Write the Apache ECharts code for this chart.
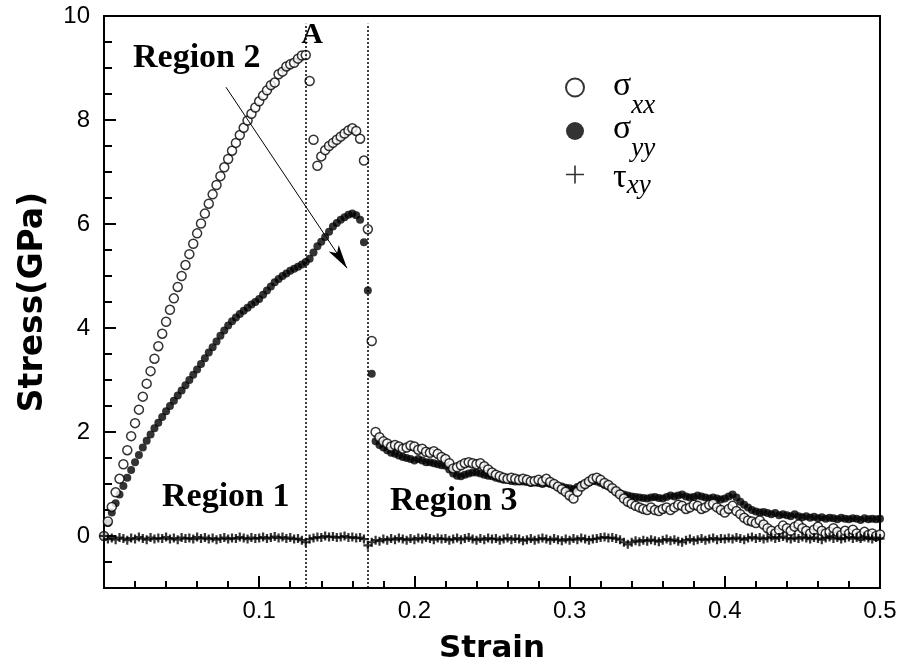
<!DOCTYPE html>
<html><head><meta charset="utf-8">
<script src="https://cdn.jsdelivr.net/npm/echarts@6/dist/echarts.min.js"></script>
<style>html,body{margin:0;padding:0;background:#fff}#c{width:899px;height:664px}</style>
</head><body><div id="c"></div>
<script>
// ---- data ----
const strain = [
0,0.0025,0.005,0.0075,0.01,0.0125,0.015,0.0175,0.02,0.0225,
0.025,0.0275,0.03,0.0325,0.035,0.0375,0.04,0.0425,0.045,0.0475,
0.05,0.0525,0.055,0.0575,0.06,0.0625,0.065,0.0675,0.07,0.0725,
0.075,0.0775,0.08,0.0825,0.085,0.0875,0.09,0.0925,0.095,0.0975,
0.1,0.1025,0.105,0.1075,0.11,0.1125,0.115,0.1175,0.12,0.1225,
0.125,0.1275,0.13,0.1325,0.135,0.1375,0.14,0.1425,0.145,0.1475,
0.15,0.1525,0.155,0.1575,0.16,0.1625,0.165,0.1675,0.17,0.1725,
0.175,0.1775,0.18,0.1825,0.185,0.1875,0.19,0.1925,0.195,0.1975,
0.2,0.2025,0.205,0.2075,0.21,0.2125,0.215,0.2175,0.22,0.2225,
0.225,0.2275,0.23,0.2325,0.235,0.2375,0.24,0.2425,0.245,0.2475,
0.25,0.2525,0.255,0.2575,0.26,0.2625,0.265,0.2675,0.27,0.2725,
0.275,0.2775,0.28,0.2825,0.285,0.2875,0.29,0.2925,0.295,0.2975,
0.3,0.3025,0.305,0.3075,0.31,0.3125,0.315,0.3175,0.32,0.3225,
0.325,0.3275,0.33,0.3325,0.335,0.3375,0.34,0.3425,0.345,0.3475,
0.35,0.3525,0.355,0.3575,0.36,0.3625,0.365,0.3675,0.37,0.3725,
0.375,0.3775,0.38,0.3825,0.385,0.3875,0.39,0.3925,0.395,0.3975,
0.4,0.4025,0.405,0.4075,0.41,0.4125,0.415,0.4175,0.42,0.4225,
0.425,0.4275,0.43,0.4325,0.435,0.4375,0.44,0.4425,0.445,0.4475,
0.45,0.4525,0.455,0.4575,0.46,0.4625,0.465,0.4675,0.47,0.4725,
0.475,0.4775,0.48,0.4825,0.485,0.4875,0.49,0.4925,0.495,0.4975,
0.5];

const sigmaXX = [
0,0.28,0.56,0.84,1.1,1.38,1.65,1.92,2.17,2.43,
2.68,2.93,3.17,3.41,3.65,3.89,4.12,4.35,4.57,4.79,
5.0,5.21,5.42,5.62,5.82,6.01,6.2,6.39,6.57,6.75,
6.92,7.09,7.25,7.41,7.56,7.71,7.85,7.99,8.12,8.24,
8.36,8.47,8.57,8.67,8.72,8.88,8.93,9.03,9.07,9.1,
9.18,9.24,9.25,8.75,7.62,7.12,7.3,7.42,7.5,7.56,
7.62,7.68,7.74,7.8,7.84,7.79,7.64,7.22,5.9,3.75,
2.0,1.9,1.82,1.78,1.72,1.75,1.72,1.68,1.7,1.74,
1.72,1.66,1.68,1.62,1.6,1.63,1.58,1.52,1.48,1.4,
1.3,1.32,1.36,1.4,1.42,1.4,1.38,1.4,1.34,1.28,
1.22,1.18,1.15,1.12,1.1,1.12,1.1,1.08,1.1,1.08,
1.05,1.06,1.08,1.05,1.1,1.04,1.0,0.95,0.9,0.85,
0.78,0.72,0.85,0.95,1.0,1.05,1.1,1.12,1.08,1.02,
0.98,0.92,0.86,0.8,0.72,0.66,0.62,0.58,0.55,0.52,
0.5,0.55,0.5,0.48,0.52,0.55,0.5,0.55,0.6,0.58,
0.52,0.55,0.6,0.58,0.52,0.55,0.6,0.62,0.55,0.5,
0.45,0.52,0.58,0.48,0.42,0.35,0.3,0.28,0.25,0.3,
0.22,0.15,0.1,0.05,0.12,0.2,0.15,0.1,0.18,0.22,
0.15,0.1,0.05,0.12,0.18,0.1,0.05,0.08,0.15,0.08,
0.02,0.1,0.05,0.12,0.05,0.0,0.08,0.02,0.05,0.0,
0.03];

const sigmaYY = [
0,0.25,0.45,0.63,0.8,0.96,1.12,1.27,1.42,1.56,
1.7,1.83,1.95,2.07,2.18,2.29,2.4,2.5,2.6,2.7,
2.8,2.9,3.0,3.1,3.2,3.31,3.42,3.53,3.63,3.74,
3.85,3.95,4.05,4.13,4.2,4.27,4.33,4.39,4.45,4.5,
4.56,4.64,4.72,4.8,4.88,4.94,5.0,5.05,5.1,5.14,
5.18,5.22,5.27,5.33,5.45,5.57,5.66,5.75,5.85,5.95,
6.02,6.08,6.13,6.18,6.2,6.17,6.08,5.65,4.72,3.12,
1.82,1.75,1.7,1.65,1.6,1.58,1.55,1.52,1.5,1.48,
1.45,1.48,1.45,1.42,1.42,1.4,1.38,1.36,1.35,1.28,
1.2,1.16,1.15,1.18,1.2,1.22,1.22,1.2,1.18,1.16,
1.15,1.12,1.1,1.08,1.08,1.06,1.05,1.05,1.05,1.04,
1.02,1.03,1.02,1.0,1.02,1.0,0.98,0.96,0.95,0.93,
0.92,0.9,0.94,0.98,1.0,1.03,1.06,1.05,1.02,0.98,
0.95,0.9,0.85,0.82,0.8,0.78,0.76,0.75,0.74,0.73,
0.72,0.74,0.75,0.73,0.72,0.75,0.78,0.76,0.78,0.8,
0.76,0.74,0.75,0.78,0.76,0.74,0.72,0.74,0.72,0.7,
0.72,0.76,0.8,0.74,0.66,0.6,0.55,0.5,0.47,0.45,
0.46,0.44,0.42,0.44,0.4,0.42,0.4,0.38,0.42,0.38,
0.36,0.38,0.35,0.37,0.34,0.36,0.33,0.35,0.34,0.32,
0.35,0.33,0.32,0.34,0.33,0.31,0.34,0.32,0.33,0.32,
0.33];

const tauXY = [
0,-0.06,-0.04,-0.07,-0.03,-0.05,-0.08,-0.04,-0.06,-0.02,
-0.05,-0.07,-0.03,-0.06,-0.04,-0.05,-0.02,-0.06,-0.04,-0.07,
-0.03,-0.05,-0.04,-0.06,-0.02,-0.05,-0.03,-0.06,-0.04,-0.07,
-0.05,-0.03,-0.06,-0.04,-0.05,-0.02,-0.04,-0.06,-0.03,-0.05,
-0.04,-0.02,-0.05,-0.03,-0.01,-0.04,-0.02,-0.05,-0.03,-0.06,
-0.05,-0.08,-0.12,-0.06,-0.04,-0.02,-0.03,0.0,-0.02,-0.01,
-0.03,-0.02,0.0,-0.03,-0.02,-0.04,-0.03,-0.06,-0.18,-0.12,
-0.08,-0.1,-0.06,-0.08,-0.05,-0.07,-0.04,-0.06,-0.08,-0.05,
-0.07,-0.04,-0.06,-0.03,-0.05,-0.07,-0.04,-0.06,-0.05,-0.08,
-0.06,-0.04,-0.07,-0.05,-0.03,-0.06,-0.08,-0.05,-0.07,-0.04,
-0.06,-0.05,-0.08,-0.06,-0.04,-0.07,-0.05,-0.06,-0.09,-0.07,
-0.05,-0.08,-0.06,-0.04,-0.06,-0.08,-0.05,-0.07,-0.09,-0.06,
-0.08,-0.05,-0.07,-0.04,-0.06,-0.08,-0.06,-0.05,-0.03,-0.02,
-0.04,-0.03,-0.05,-0.07,-0.12,-0.16,-0.12,-0.09,-0.11,-0.08,
-0.1,-0.07,-0.09,-0.11,-0.08,-0.06,-0.09,-0.07,-0.1,-0.12,
-0.08,-0.06,-0.09,-0.07,-0.05,-0.08,-0.06,-0.04,-0.07,-0.05,
-0.06,-0.04,-0.06,-0.03,-0.05,-0.07,-0.04,-0.02,-0.05,-0.03,
-0.06,-0.04,-0.02,-0.05,-0.03,-0.01,-0.04,-0.06,-0.03,-0.05,
-0.02,-0.04,-0.06,-0.03,-0.05,-0.07,-0.04,-0.02,-0.05,-0.03,
-0.06,-0.04,-0.02,-0.05,-0.03,-0.05,-0.02,-0.04,-0.06,-0.03,
-0.05];

// strain positions of the dotted region boundaries and the Region 2 arrow (data units)
const boundaries = [0.13, 0.17];
const arrowFrom = [0.0786, 8.63];
const arrowTo = [0.1566, 5.15];

const seriesNames = ['σxx', 'σyy', 'τxy'];
const legendSub = {'σxx': '{s|σ}{ss|xx}', 'σyy': '{s|σ}{ss|yy}', 'τxy': '{t|τ}{ts|xy}'};

const pair = arr => strain.map((s, i) => [s, arr[i]]).filter(p => p[1] !== undefined);

const plusData = 'path://M0,3.4 L9,3.4 L9,5.6 L0,5.6 Z M3.4,0 L5.6,0 L5.6,9 L3.4,9 Z';
const plusLegend = 'path://M0,9.1 L20,9.1 L20,10.9 L0,10.9 Z M9.1,0 L10.9,0 L10.9,20 L9.1,20 Z';

const chart = echarts.init(document.getElementById('c'), null, {renderer: 'canvas'});
const black = '#000';
const tickFont = {fontFamily: 'Liberation Sans', fontSize: 24, color: black};
const serif = 'Liberation Serif';

chart.setOption({
  animation: false,
  backgroundColor: '#fff',
  grid: [
    {left: 104, right: 19, top: 16, bottom: 76, show: true, borderColor: black, borderWidth: 2, outerBoundsMode: 'none'},
    {left: 104, right: 19, top: 16, bottom: 128, show: false, outerBoundsMode: 'none'}
  ],
  xAxis: [
    {gridIndex: 0, type: 'value', min: 0, max: 0.5, interval: 0.1,
     axisLine: {show: true, onZero: false, lineStyle: {color: black, width: 2}},
     axisTick: {show: true, inside: true, length: 12, lineStyle: {color: black, width: 2}},
     minorTick: {show: true, splitNumber: 5, length: 7, lineStyle: {color: black, width: 2}},
     splitLine: {show: false},
     axisLabel: Object.assign({margin: 11, formatter: v => (v === 0 ? '' : v.toFixed(1))}, tickFont),
     name: 'Strain', nameLocation: 'middle', nameGap: 45,
     nameTextStyle: {fontFamily: 'DejaVu Sans', fontWeight: 'bold', fontSize: 31, color: black}},
    {gridIndex: 1, type: 'value', min: 0, max: 0.5, show: false}
  ],
  yAxis: [
    {gridIndex: 0, type: 'value', min: -1, max: 10, interval: 0.5,
     axisLine: {show: true, onZero: false, lineStyle: {color: black, width: 2}},
     axisTick: {show: true, inside: true, length: 8, lineStyle: {color: black, width: 2}},
     axisLabel: {show: false}, splitLine: {show: false},
     name: 'Stress(GPa)', nameLocation: 'middle', nameGap: 54,
     nameTextStyle: {fontFamily: 'DejaVu Sans', fontWeight: 'bold', fontSize: 33, color: black}},
    {gridIndex: 1, type: 'value', min: 0, max: 10, interval: 2,
     axisLine: {show: false},
     axisTick: {show: true, inside: true, length: 12, lineStyle: {color: black, width: 2}},
     axisLabel: Object.assign({margin: 14}, tickFont),
     splitLine: {show: false}}
  ],
  legend: {
    orient: 'vertical', left: 565, top: 56, padding: 0, itemGap: -19.5,
    itemWidth: 18, itemHeight: 18, selectedMode: false,
    data: [
      {name: 'σxx', icon: 'circle', itemStyle: {color: '#fff', borderColor: black, borderWidth: 2}},
      {name: 'σyy', icon: 'circle', itemStyle: {color: black, borderWidth: 0}},
      {name: 'τxy', icon: plusLegend, itemStyle: {color: black, borderWidth: 0}}
    ],
    formatter: n => legendSub[n],
    textStyle: {
      color: black,
      rich: {
        s: {fontFamily: serif, fontSize: 34, lineHeight: 34, color: black, padding: [0, 0, 3, 24]},
        ss: {fontFamily: serif, fontStyle: 'italic', fontSize: 27, lineHeight: 27, color: black, padding: [36, 0, 0, 0]},
        t: {fontFamily: serif, fontSize: 34, lineHeight: 34, color: black, padding: [18, 0, 11, 24]},
        ts: {fontFamily: serif, fontStyle: 'italic', fontSize: 27, lineHeight: 27, color: black, padding: [22, 0, 0, 0]}
      }
    }
  },
  graphic: [
    {type: 'text', x: 162, y: 497, style: {text: 'Region 1', font: 'bold 34px "Liberation Serif"', fill: black, verticalAlign: 'middle'}},
    {type: 'text', x: 133, y: 58, style: {text: 'Region 2', font: 'bold 34px "Liberation Serif"', fill: black, verticalAlign: 'middle'}},
    {type: 'text', x: 390, y: 501, style: {text: 'Region 3', font: 'bold 34px "Liberation Serif"', fill: black, verticalAlign: 'middle'}},
    {type: 'text', x: 312, y: 35, style: {text: 'A', font: 'bold 30px "Liberation Serif"', fill: black, align: 'center', verticalAlign: 'middle'}}
  ],
  series: [
    {name: seriesNames[1], type: 'scatter', xAxisIndex: 0, yAxisIndex: 0, data: pair(sigmaYY),
     symbol: 'circle', symbolSize: 8, itemStyle: {color: black}, emphasis: {disabled: true}},
    {name: seriesNames[0], type: 'scatter', xAxisIndex: 0, yAxisIndex: 0, data: pair(sigmaXX),
     symbol: 'circle', symbolSize: 9, itemStyle: {color: '#fff', borderColor: black, borderWidth: 1.5}, emphasis: {disabled: true}},
    {name: seriesNames[2], type: 'scatter', xAxisIndex: 0, yAxisIndex: 0, data: pair(tauXY),
     symbol: plusData, symbolSize: 9, itemStyle: {color: black}, emphasis: {disabled: true},
     markLine: {
       silent: true, animation: false, symbol: ['none', 'none'],
       label: {show: false},
       data: [
         [{coord: [boundaries[0], -1], lineStyle: {type: [2, 2], width: 1.5, color: black}}, {coord: [boundaries[0], 9.85]}],
         [{coord: [boundaries[1], -1], lineStyle: {type: [2, 2], width: 1.5, color: black}}, {coord: [boundaries[1], 9.85]}],
         [{coord: arrowFrom, symbol: 'none', lineStyle: {type: 'solid', width: 1, color: black}},
          {coord: arrowTo, symbol: 'arrow', symbolSize: [9, 24]}]
       ]
     }}
  ]
});
</script>
</body></html>
